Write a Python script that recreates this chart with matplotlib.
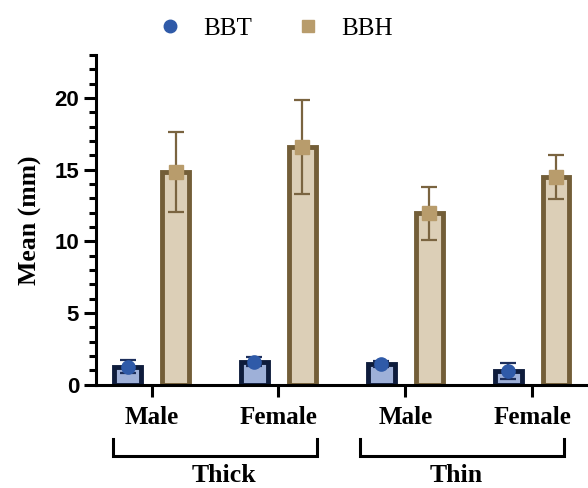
import matplotlib
matplotlib.use("Agg")
import matplotlib.pyplot as plt
from matplotlib.lines import Line2D
import matplotlib.transforms as mtransforms
import numpy as np

# Data: mean and SD per group
groups = ["Male", "Female", "Male", "Female"]
categories = ["Thick", "Thin"]
bbt_mean = [1.25, 1.6, 1.42, 0.97]
bbt_sd = [0.43, 0.3, 0.2, 0.55]
bbh_mean = [14.85, 16.6, 11.95, 14.5]
bbh_sd = [2.8, 3.3, 1.85, 1.55]

SERIF = "Liberation Serif"
SANS = "Liberation Sans"

bbt_fill, bbt_edge, bbt_dot = "#9eb0d8", "#0e1c3c", "#2f5aa8"
bbh_fill, bbh_edge, bbh_dot = "#dccfb7", "#735e38", "#b89c6c"

fig = plt.figure(figsize=(5.88, 4.88), dpi=100)
ax = fig.add_axes([0.163, 0.212, 0.837, 0.675])

x = np.arange(len(groups))
off = 0.189
w = 0.21

ax.bar(x - off, bbt_mean, width=w, color=bbt_fill, edgecolor=bbt_edge,
       linewidth=3.5, zorder=2)
ax.bar(x + off, bbh_mean, width=w, color=bbh_fill, edgecolor=bbh_edge,
       linewidth=3.5, zorder=2)

ax.errorbar(x - off, bbt_mean, yerr=bbt_sd, fmt="none", ecolor="#1d2f5c",
            elinewidth=1.6, capsize=6, capthick=1.6, zorder=3)
ax.errorbar(x + off, bbh_mean, yerr=bbh_sd, fmt="none", ecolor="#7a6440",
            elinewidth=1.6, capsize=6, capthick=1.6, zorder=3)
ax.plot(x - off, bbt_mean, "o", color=bbt_dot, markersize=9.5, zorder=4)
ax.plot(x + off, bbh_mean, "s", color=bbh_dot, markersize=9.5, zorder=4)

ax.set_xlim(-0.439, 3.44)
ax.set_ylim(0, 23)
for s in ("top", "right"):
    ax.spines[s].set_visible(False)
for s in ("left", "bottom"):
    ax.spines[s].set_linewidth(2.2)

ax.set_yticks([0, 5, 10, 15, 20])
ax.set_yticks(np.arange(0, 24, 1), minor=True)
ax.tick_params(axis="y", which="major", length=9, width=2.2, pad=3)
ax.tick_params(axis="y", which="minor", length=5, width=2.2)
for lab in ax.get_yticklabels():
    lab.set_fontfamily(SANS)
    lab.set_fontweight("bold")
    lab.set_fontsize(16)

ax.set_xticks(x)
ax.set_xticklabels(groups, fontfamily=SERIF, fontweight="bold", fontsize=18)
ax.tick_params(axis="x", length=8.5, width=2.2, pad=7)

ax.set_ylabel("Mean (mm)", fontfamily=SERIF, fontweight="bold", fontsize=18.5,
              labelpad=9)

# Group brackets under the tick labels
trans = mtransforms.blended_transform_factory(ax.transData, ax.transAxes)
brackets = [(-0.307, 1.305), (1.64, 3.25)]
label_x = [0.57, 2.40]
for (x0, x1), lx, name in zip(brackets, label_x, categories):
    ax.plot([x0, x0, x1, x1], [-0.166, -0.217, -0.217, -0.166], color="black",
            lw=2.2, transform=trans, clip_on=False, solid_joinstyle="miter")
    ax.text(lx, -0.275, name, transform=trans, ha="center",
            va="center", fontfamily=SERIF, fontweight="bold", fontsize=18.5)

handles = [
    Line2D([], [], ls="none", marker="o", color=bbt_dot, markersize=9),
    Line2D([], [], ls="none", marker="s", color=bbh_dot, markersize=9),
]
fig.legend(handles, ["BBT", "BBH"], loc="center", bbox_to_anchor=(0.468, 0.942),
           ncol=2, frameon=False, prop={"family": SERIF, "size": 18},
           handlelength=1.0, handletextpad=0.84, columnspacing=1.7)

fig.savefig("out.png", dpi=100)
